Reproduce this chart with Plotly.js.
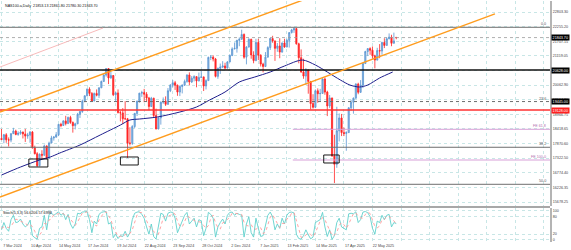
<!DOCTYPE html>
<html><head><meta charset="utf-8">
<script src="https://cdn.plot.ly/plotly-3.0.1.min.js"></script>
<style>html,body{margin:0;padding:0;background:#fff}#chart{width:571px;height:250px}</style>
</head><body><div id="chart"></div>
<script>
// ---- 2-day OHLC bars, NAS100.a ----
const barOpen = [18060,18020,18200,18010,18000,18240,18340,18210,18255,18300,
18230,18150,18190,18300,17710,17490,17040,17470,17430,17780,
17320,17890,18080,18110,18200,18590,18550,18720,18620,18850,
18660,18540,18610,18970,19070,19460,19660,19910,19750,19470,
19750,19680,19960,20200,20440,20680,20330,20420,19700,19770,
19030,19020,18800,18800,17890,17880,18510,19000,19460,19760,
19780,19720,19580,19260,19570,18920,18420,18830,19420,19460,
19340,19850,20060,20150,20060,19800,20010,20060,20200,20440,
20180,20320,20380,20220,20350,20370,20030,20230,21100,21110,
21040,20390,20690,20740,20780,20700,20930,21170,21420,21440,
21740,21780,21960,21110,21490,21780,21190,20980,21660,21180,
20850,20760,21110,21470,21810,21720,21440,21530,21300,21640,
21490,21740,22030,22130,22180,21610,21090,20550,20400,20630,
20200,19370,19230,19850,19740,19750,20290,19800,19280,19580,
17400,17090,18350,18830,18280,18250,18280,19210,19420,19570,
20100,19790,20060,20870,21320,21430,21370,21160,21000,21360,
21340,21660,21550,21800,21860,21630,21853.13];
const barHigh = [18420,18230,18260,18100,18260,18460,18390,18330,18370,18320,
18420,18270,18340,18340,17790,17550,17500,17620,17830,17800,
17940,18160,18150,18300,18600,18650,18740,18910,18880,18910,
18700,18650,19020,19090,19520,19680,19940,19980,19800,19780,
19900,19980,20230,20470,20700,20690,20560,20440,19810,19900,
19100,19200,19460,18830,18480,18560,19020,19480,19770,19850,
19920,19800,19620,19620,19590,19180,18860,19450,19600,19640,
19950,20100,20250,20220,20080,20050,20090,20270,20470,20540,
20400,20430,20390,20530,20600,20380,20280,21130,21190,21180,
21080,20720,20870,20960,20900,20960,21220,21480,21660,21760,
21850,22140,22000,21520,21820,21800,21330,21800,21800,21220,
20900,21300,21520,21830,21910,21730,21640,21820,21660,21800,
21800,22050,22170,22230,22200,21650,21400,21050,20700,20640,
20210,19720,19900,19940,19920,20320,20350,19850,19690,19590,
18200,19250,19000,18980,18470,18330,19230,19510,19600,20130,
20150,20250,20900,21350,21450,21480,21510,21200,21460,21600,
21690,21820,21850,22000,21950,22030,21861.80];
const barLow = [18000,17880,17900,17760,17920,18230,18180,18160,18200,18060,
17930,18050,17900,17680,17460,17000,17020,17260,17420,17280,
17300,17880,17980,18100,18150,18480,18530,18550,18600,18610,
18280,18400,18600,18830,19020,19420,19640,19650,19440,19450,
19640,19580,19950,20180,20380,20100,20300,19650,19450,19000,
18700,18600,18760,17330,17800,17820,18450,18900,19400,19620,
19420,19450,19120,19240,18860,18400,18400,18580,19360,19280,
19330,19800,19980,19880,19660,19650,19750,20030,20150,20050,
20140,20200,19980,20200,20320,19840,19900,20230,21000,20950,
20350,20300,20480,20700,20650,20690,20920,21150,21400,21280,
21520,21770,21050,20840,21470,21050,20880,20960,21000,20760,
20540,20740,21100,21380,21650,20970,21310,21070,21280,21460,
21480,21470,22000,22020,21580,20880,20530,20300,20070,19740,
19150,19180,19200,19400,19450,19740,19700,18900,19200,17380,
16390,16960,17950,18150,18150,17600,18270,19100,18990,19560,
19720,19770,19950,20860,21150,21200,21050,20690,20990,21070,
21200,21450,21540,21780,21520,21620,21780.30];
const barClose = [18020,18200,18010,18000,18240,18340,18210,18255,18300,18230,
18150,18190,18300,17710,17490,17040,17470,17430,17780,17320,
17890,18080,18110,18200,18590,18550,18720,18620,18850,18660,
18540,18610,18970,19070,19460,19660,19910,19750,19470,19750,
19680,19960,20200,20440,20680,20330,20420,19700,19770,19030,
19020,18800,18800,17890,17880,18510,19000,19460,19760,19780,
19720,19580,19260,19570,18920,18420,18830,19420,19460,19340,
19850,20060,20150,20060,19800,20010,20060,20200,20440,20180,
20320,20380,20220,20350,20370,20030,20230,21100,21110,21040,
20390,20690,20740,20780,20700,20930,21170,21420,21440,21740,
21780,21960,21110,21490,21780,21190,20980,21660,21180,20850,
20760,21110,21470,21810,21720,21440,21530,21300,21640,21490,
21740,22030,22130,22180,21610,21090,20550,20400,20630,20200,
19370,19230,19850,19740,19750,20290,19800,19280,19580,17400,
17090,18350,18830,18280,18250,18280,19210,19420,19570,20100,
19790,20060,20870,21320,21430,21370,21160,21000,21360,21340,
21660,21550,21800,21860,21630,21720,21843.70];

// ---- Stochastic(5,3,3) ----
const stochMain = [35,60,40,30,70,85,60,62,72,55,45,52,68,15,8,3,40,45,85,35,
88,92,85,90,97,85,92,70,88,55,40,55,92,90,96,97,98,70,25,65,
55,88,95,97,98,55,60,8,20,5,15,12,30,10,25,70,92,96,97,88,
75,45,20,55,12,3,45,92,88,65,92,96,95,75,25,45,65,85,95,55,
65,75,45,70,65,15,40,95,88,75,10,45,60,72,55,85,95,96,85,92,
88,85,10,55,80,25,10,75,40,12,15,55,85,96,80,35,55,40,75,55,
85,95,96,93,20,5,3,15,35,18,4,10,60,65,70,95,45,12,35,2,
15,60,75,45,40,35,90,92,90,97,60,70,96,98,94,80,40,20,65,60,
85,70,85,88,45,60,56.62];
const stochSignal = [40,45,45,43,47,62,72,69,65,63,57,51,55,45,30,9,17,29,57,55,
69,72,88,89,91,91,91,82,83,71,61,50,62,79,93,94,97,88,64,53,
48,69,79,93,97,83,71,41,29,11,13,11,19,17,22,35,62,86,95,94,
87,69,47,40,29,23,20,47,75,82,82,84,94,89,65,48,45,65,82,78,
72,65,62,63,60,50,40,50,74,86,58,43,38,59,62,71,78,92,92,91,
88,88,61,50,48,53,38,37,42,42,22,27,52,79,87,70,57,43,57,57,
72,78,92,95,70,39,9,8,18,23,19,11,25,45,65,77,70,51,31,16,
17,26,50,60,53,40,55,72,91,93,82,76,75,88,96,91,71,47,42,48,
70,72,80,81,73,64,57.70];

// ---- moving average ----
const maDay = [0,16,32,41,49,66,83,100,108,116,131,150,164,175,188,200,213,226,238,253,264,274,285,293,301,308,318,329];
const maValue = [16690,16990,17253,17365,17515,17815,18190,18565,18753,18790,18865,19053,19240,19503,19803,20178,20365,20553,20778,21003,20815,20553,20253,20065,19990,20065,20328,20553];

// ---- axes ----
const tickDay = [0,24,48,72,96,120,144,168,192,216,240,264,288,312,336,360,384,408,432,456];
const tickLabel = ['7 Mar 2024','10 Apr 2024','14 May 2024','17 Jun 2024','19 Jul 2024','22 Aug 2024','23 Sep 2024','28 Oct 2024','2 Dec 2024','7 Jan 2025','13 Feb 2025','14 Mar 2025','17 Apr 2025','22 May 2025','','','','','',''];
const priceTick = [22803.30,22255.20,21707.15,21159.05,20611.00,20062.90,19514.80,18966.75,18418.65,17870.60,17322.50,16774.40,16226.35,15678.25];
const priceTickText = ['22803.30','22255.20','21707.15','21159.05','20611.00','20062.90','19514.80','18966.75','18418.65','17870.60','17322.50','16774.40','16226.35','15678.25'];
const stochTick = [0,20,80,100];

// ---- drawn objects ----
const fibLabel = ['0.0','23.6','38.2','50.0'];
const fibPrice = [22230,19445,17730,16342];
const feLabel = ['FE 61.8','FE 100.0'];
const fePrice = [18404,17253];
const feStartDay = 245;
const supportPrice = 20628;
const resistRedPrice = 19128;
const bidPrice = 21843.70;
const boxDayFrom = [23,100,271];
const boxDayTo = [39,115,284];
const boxPriceLow = [16991,17066,17141];
const boxPriceHigh = [17291,17366,17441];
const channelUpperDay = [-1.26,276.3], channelUpperPrice = [19053,23628];
const channelLowerDay = [-1.26,415], channelLowerPrice = [15866,22734];
const pinkLineDay = [-1.26,85.4], pinkLinePrice = [20740,22203];

const barDay = barClose.map((_, i) => i * 2);
const F = 'Liberation Sans, Arial, sans-serif';
const fs = 3.7;

const traces = [
  {type:'candlestick', x:barDay, open:barOpen, high:barHigh, low:barLow, close:barClose,
   xaxis:'x', yaxis:'y', whiskerwidth:0,
   increasing:{line:{color:'#5a96d2',width:0.8}, fillcolor:'#8cb8e2'},
   decreasing:{line:{color:'#ff2424',width:0.8}, fillcolor:'#ff2424'},
   hoverinfo:'skip', showlegend:false},
  {type:'scatter', mode:'lines', x:maDay, y:maValue, xaxis:'x', yaxis:'y',
   line:{color:'#1e1e8c', width:1, shape:'spline', smoothing:0.8}, hoverinfo:'skip', showlegend:false},
  {type:'scatter', mode:'lines', x:barDay, y:stochMain, xaxis:'x', yaxis:'y2',
   line:{color:'#5fd0cc', width:0.9}, hoverinfo:'skip', showlegend:false},
  {type:'scatter', mode:'lines', x:barDay, y:stochSignal, xaxis:'x', yaxis:'y2',
   line:{color:'#ff9a9a', width:0.9, dash:'dot'}, hoverinfo:'skip', showlegend:false}
];

const shapes = [];
const hline = (p, color, width, dash, x0) => shapes.push({type:'line', xref: x0===undefined?'paper':'x', x0: x0===undefined?0:x0, x1: x0===undefined?1:461.3, yref:'y', y0:p, y1:p, line:{color, width, dash}});
fibPrice.forEach((p,i) => hline(p, '#6e6e6e', 1, i===1?'dot':'solid'));
hline(supportPrice, '#101010', 1.6, 'solid');
hline(resistRedPrice, '#ff3030', 1.6, 'solid');
hline(bidPrice, '#9a9a9a', 0.8, 'dot');
fePrice.forEach(p => hline(p, '#d8a0d8', 1, 'solid', feStartDay));
boxDayFrom.forEach((d,i) => shapes.push({type:'rect', xref:'x', yref:'y', x0:d, x1:boxDayTo[i], y0:boxPriceLow[i], y1:boxPriceHigh[i], line:{color:'#000', width:0.9}, fillcolor:'rgba(0,0,0,0)'}));
shapes.push({type:'line', xref:'x', yref:'y', x0:channelUpperDay[0], x1:channelUpperDay[1], y0:channelUpperPrice[0], y1:channelUpperPrice[1], line:{color:'#ff9c1e', width:1.4}});
shapes.push({type:'line', xref:'x', yref:'y', x0:channelLowerDay[0], x1:channelLowerDay[1], y0:channelLowerPrice[0], y1:channelLowerPrice[1], line:{color:'#ff9c1e', width:1.4}});
shapes.push({type:'line', xref:'x', yref:'y', x0:pinkLineDay[0], x1:pinkLineDay[1], y0:pinkLinePrice[0], y1:pinkLinePrice[1], line:{color:'#f5a8a8', width:0.8}});
// panel separator
shapes.push({type:'line', xref:'paper', yref:'paper', x0:0, x1:1, y0:0.1452, y1:0.1452, line:{color:'#a8a8a8', width:2}});

const ann = [];
ann.push({xref:'paper', yref:'paper', x:0, y:1, xanchor:'left', yanchor:'top', xshift:3, yshift:-1, showarrow:false,
  text:'NAS100.a,Daily  21853.13 21861.80 21780.30 21843.70', font:{family:F, size:fs, color:'#111'}});
ann.push({xref:'paper', yref:'paper', x:0, y:0.141, xanchor:'left', yanchor:'top', xshift:1, yshift:-1, showarrow:false,
  text:'Stoch(5,3,3) 56.6206 57.6998', font:{family:F, size:fs, color:'#111'}});
fibPrice.forEach((p,i) => ann.push({xref:'paper', yref:'y', x:0.997, y:p, xanchor:'right', yanchor:'bottom', showarrow:false, yshift:-1,
  text:fibLabel[i], font:{family:F, size:fs, color:'#555'}}));
fePrice.forEach((p,i) => ann.push({xref:'paper', yref:'y', x:0.997, y:p, xanchor:'right', yanchor:'bottom', showarrow:false, yshift:-1,
  text:feLabel[i], font:{family:F, size:fs, color:'#b070b0'}}));
const axBox = (p, txt, bg) => ann.push({xref:'paper', yref:'y', x:1, y:p, xanchor:'left', yanchor:'middle', xshift:1, showarrow:false,
  text:txt, bgcolor:bg, borderpad:0.6, font:{family:F, size:fs, color:'#fff'}});
axBox(bidPrice, '21843.70', '#000');
axBox(supportPrice, '20628.00', '#000');
axBox(fibPrice[1], '19445.00', '#000');
axBox(resistRedPrice, '19128.00', '#ff2020');

const gridC = '#c8e6e6';
const layout = {
  width:571, height:250, margin:{l:0, r:21, t:1, b:8},
  paper_bgcolor:'#fff', plot_bgcolor:'#fff', showlegend:false,
  font:{family:F, size:fs, color:'#444'},
  xaxis:{anchor:'y2', range:[-1.26,461.3], tickvals:tickDay, ticktext:tickLabel, ticklabelshift:11,
    showgrid:true, gridcolor:gridC, griddash:'dot', gridwidth:1, zeroline:false, ticks:'', showline:false,
    rangeslider:{visible:false}, tickfont:{family:F, size:fs, color:'#444'}, fixedrange:true},
  yaxis:{domain:[0.1494,1], range:[15528.3,23215.8], side:'right', tickvals:priceTick, ticktext:priceTickText,
    showgrid:true, gridcolor:gridC, griddash:'dot', zeroline:false, ticks:'', showline:true, linecolor:'#b4b4b4', linewidth:2,
    tickfont:{family:F, size:fs, color:'#444'}, fixedrange:true},
  yaxis2:{domain:[0,0.141], range:[-6.9,110], side:'right', tickvals:stochTick, ticktext:stochTick.map(String),
    showgrid:true, gridcolor:gridC, griddash:'dot', zeroline:false, ticks:'', showline:true, linecolor:'#b4b4b4', linewidth:2,
    tickfont:{family:F, size:fs, color:'#444'}, fixedrange:true},
  shapes, annotations:ann
};
Plotly.newPlot('chart', traces, layout, {staticPlot:true, displayModeBar:false});
</script></body></html>
